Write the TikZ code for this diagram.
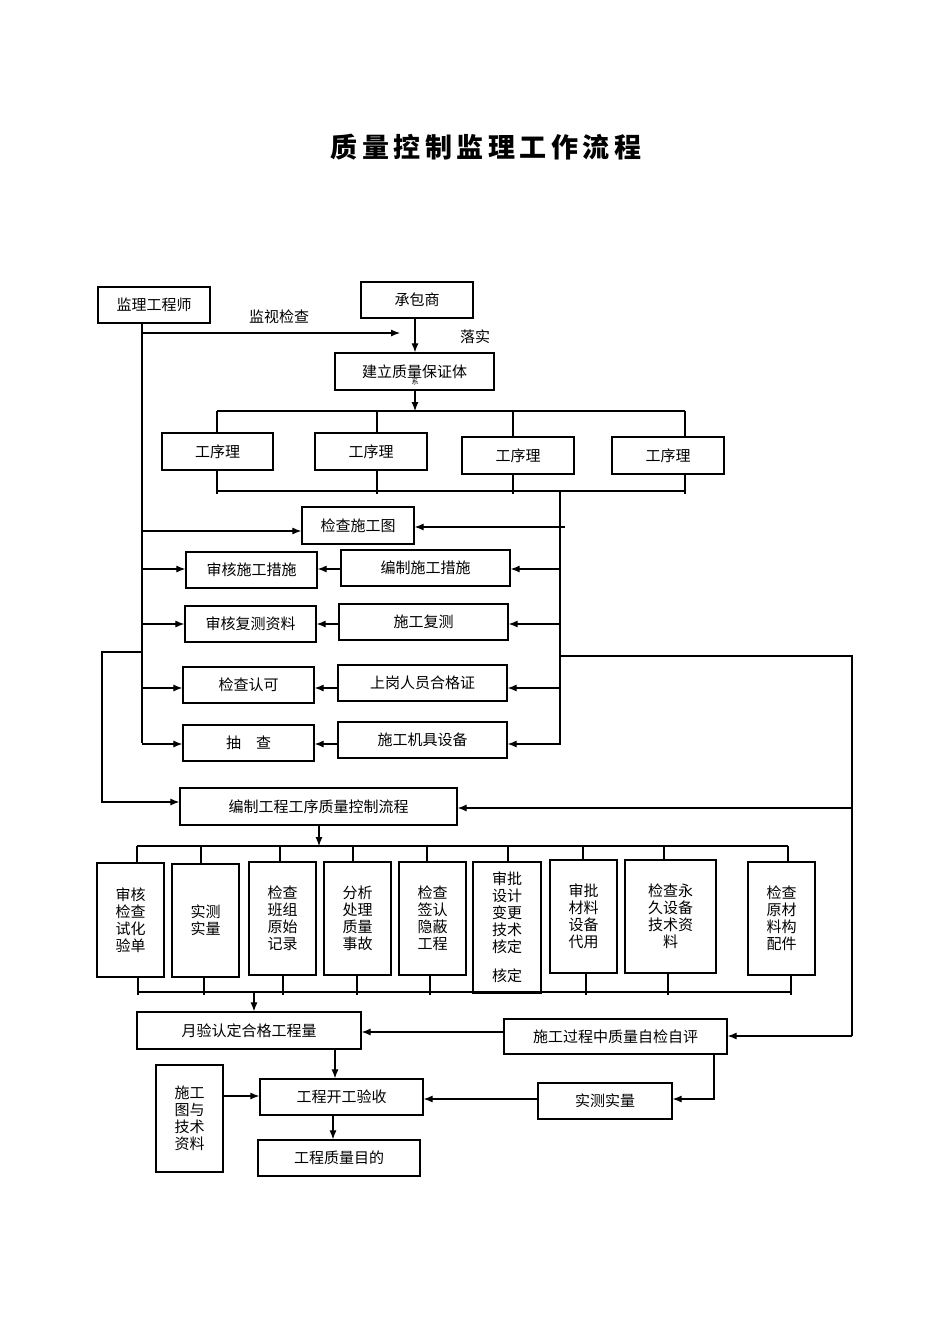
\documentclass[tikz,border=0pt]{standalone}
\usepackage{fontspec}
\setmainfont{Noto Sans CJK SC}
\usetikzlibrary{arrows.meta}
\begin{document}
\begin{tikzpicture}[x=1pt,y=-1pt,
  box/.style={draw,line width=1.3pt,inner sep=0pt,font=\fontsize{15}{17}\selectfont,align=center},
  ln/.style={line width=1.1pt},
  arr/.style={line width=1.1pt,-{Latex[length=9pt,width=7pt]}}]
\useasboundingbox (0,0) rectangle (950,1344);
\newcommand\bx[6]{\node[box,minimum width={(#4-#2)*1pt},minimum height={(#5-#3)*1pt}] (#1) at ({(#2+#4)/2},{(#3+#5)/2}) {#6};}
\node[font=\bfseries\fontsize{27}{30}\selectfont] (title) at (486,147) {质\,量\,控\,制\,监\,理\,工\,作\,流\,程};
\bx{jl}{98}{287}{210}{323}{监理工程师}
\bx{cb}{361}{282}{473}{318}{承包商}
\bx{jz}{335}{353}{494}{390}{建立质量保证体}
\node[font=\fontsize{7}{7}\selectfont] (xi) at (415,382) {系};
\node[font=\fontsize{15}{17}\selectfont] (jc) at (279,317) {监视检查};
\node[font=\fontsize{15}{17}\selectfont] (ls) at (475,337) {落实};
\bx{g1}{162}{433}{273}{470}{工序理}
\bx{g2}{315}{433}{427}{470}{工序理}
\bx{g3}{462}{437}{574}{474}{工序理}
\bx{g4}{612}{437}{724}{474}{工序理}
\bx{jt}{302}{507}{414}{544}{检查施工图}
\bx{a1}{186}{552}{317}{588}{审核施工措施}
\bx{b1}{341}{550}{510}{586}{编制施工措施}
\bx{a2}{185}{606}{316}{642}{审核复测资料}
\bx{b2}{339}{604}{508}{640}{施工复测}
\bx{a3}{183}{667}{314}{703}{检查认可}
\bx{b3}{338}{665}{507}{701}{上岗人员合格证}
\bx{a4}{183}{725}{314}{761}{抽\quad 查}
\bx{b4}{338}{722}{507}{758}{施工机具设备}
\bx{bz}{180}{788}{457}{825}{编制工程工序质量控制流程}
\bx{t1}{97}{863}{164}{977}{审核\\检查\\试化\\验单}
\bx{t2}{172}{864}{239}{977}{实测\\实量}
\bx{t3}{249}{862}{316}{975}{检查\\班组\\原始\\记录}
\bx{t4}{324}{862}{391}{975}{分析\\处理\\质量\\事故}
\bx{t5}{399}{862}{466}{975}{检查\\签认\\隐蔽\\工程}
\bx{t6}{473}{862}{541}{993}{审批\\设计\\变更\\技术\\核定\\[12pt]核定}
\bx{t7}{550}{860}{617}{973}{审批\\材料\\设备\\代用}
\bx{t8}{625}{860}{716}{973}{检查永\\久设备\\技术资\\料}
\bx{t9}{748}{862}{815}{975}{检查\\原材\\料构\\配件}
\bx{yy}{137}{1012}{361}{1049}{月验认定合格工程量}
\bx{sg}{504}{1019}{727}{1054}{施工过程中质量自检自评}
\bx{kg}{260}{1079}{423}{1115}{工程开工验收}
\bx{tz}{156}{1065}{223}{1172}{施工\\图与\\技术\\资料}
\bx{sc}{538}{1083}{672}{1119}{实测实量}
\bx{md}{258}{1140}{420}{1176}{工程质量目的}
% left supervisor trunk
\coordinate (L1) at (142,323); \coordinate (L2) at (142,743);
\draw[ln] (L1) -- (L2);
\coordinate (m1) at (142,333);
\draw[arr] (m1) -- (400,333);
\draw[arr] (cb.south -| 415,0) -- (jz.north -| 415,0);
\coordinate (tb) at (415,411);
\draw[arr] (jz.south -| tb) -- (tb);
\draw[ln] (217,411) -- (685,411);
\foreach \x/\n in {217/g1,377/g2,513/g3,685/g4}{
  \draw[ln] (\x,411) -- (\n.north -| \x,0);
  \draw[ln] (\n.south -| \x,0) -- (\x,494);}
\draw[ln] (217,491) -- (685,491);
\coordinate (R1) at (560,490); \coordinate (R2) at (560,745);
\draw[ln] (R1) -- (R2);
\draw[arr] (142,531) -- (jt.west |- 0,531);
\draw[arr] (565,527) -- (jt.east |- 0,527);
\foreach \a/\b/\y in {a1/b1/569,a2/b2/624,a3/b3/688,a4/b4/744}{
  \draw[arr] (142,\y) -- (\a.west |- 0,\y);
  \draw[arr] (\b.west |- 0,\y) -- (\a.east |- 0,\y);
  \draw[arr] (560,\y) -- (\b.east |- 0,\y);}
\draw[arr] (142,652) -- (102,652) -- (102,802) -- (bz.west |- 0,802);
\draw[ln] (560,656) -- (852,656) -- (852,1036);
\draw[arr] (852,808) -- (bz.east |- 0,808);
\draw[arr] (852,1036) -- (sg.east |- 0,1036);
\coordinate (b2top) at (319,846);
\draw[arr] (bz.south -| b2top) -- (b2top);
\draw[ln] (137,846) -- (788,846);
\foreach \x/\n in {137/t1,201/t2,280/t3,353/t4,427/t5,508/t6,583/t7,664/t8,788/t9}
  \draw[ln] (\x,846) -- (\n.north -| \x,0);
\draw[ln] (138,992) -- (792,992);
\foreach \x/\n in {138/t1,204/t2,283/t3,357/t4,430/t5,586/t7,668/t8,791/t9}
  \draw[ln] (\n.south -| \x,0) -- (\x,995);
\coordinate (b3) at (254,992);
\draw[arr] (b3) -- (yy.north -| b3);
\draw[arr] (sg.west |- 0,1032) -- (yy.east |- 0,1032);
\draw[arr] (yy.south -| 335,0) -- (kg.north -| 335,0);
\draw[arr] (tz.east |- 0,1096) -- (kg.west |- 0,1096);
\draw[arr] (sg.south -| 714,0) -- (714,1099) -- (sc.east |- 0,1099);
\draw[arr] (sc.west |- 0,1099) -- (kg.east |- 0,1099);
\draw[arr] (kg.south -| 333,0) -- (md.north -| 333,0);
\end{tikzpicture}
\end{document}
